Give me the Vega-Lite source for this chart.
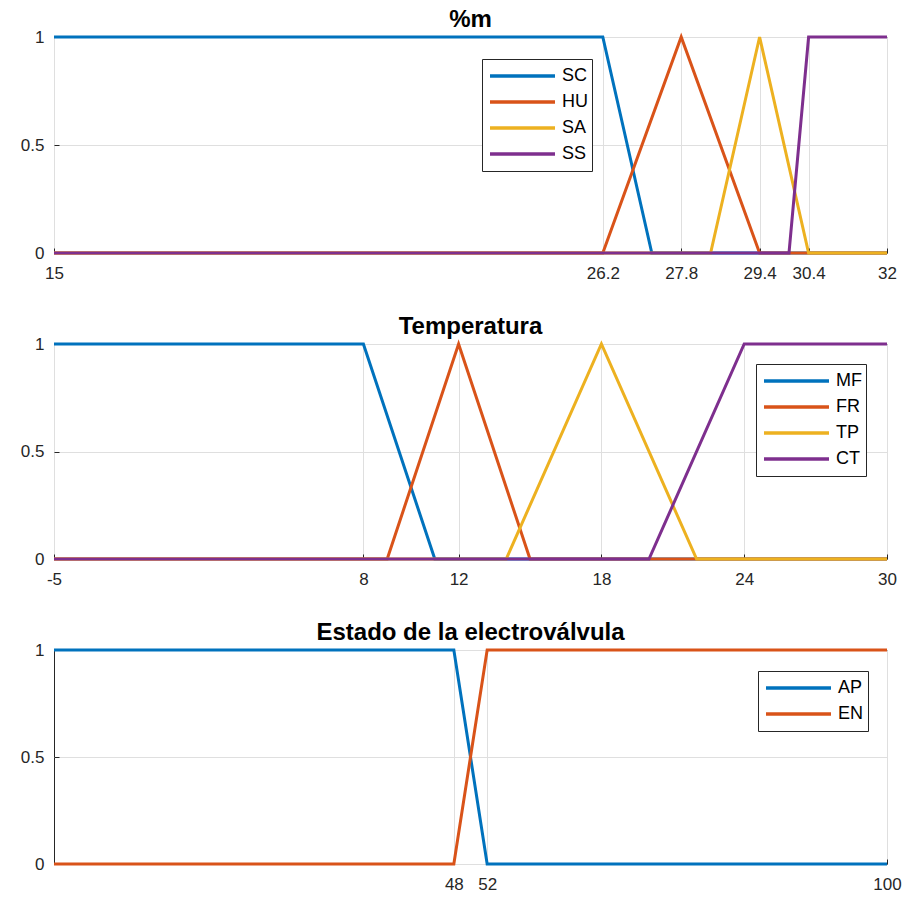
{
  "$schema": "https://vega.github.io/schema/vega-lite/v6.json",
  "background": "white",
  "padding": {"left": 5, "top": 7, "right": 5, "bottom": 2},
  "datasets": {
    "m": [
      {"x": 15, "y": 1, "mf": "SC"}, {"x": 26.2, "y": 1, "mf": "SC"}, {"x": 27.2, "y": 0, "mf": "SC"}, {"x": 32, "y": 0, "mf": "SC"},
      {"x": 15, "y": 0, "mf": "HU"}, {"x": 26.2, "y": 0, "mf": "HU"}, {"x": 27.8, "y": 1, "mf": "HU"}, {"x": 29.4, "y": 0, "mf": "HU"}, {"x": 32, "y": 0, "mf": "HU"},
      {"x": 15, "y": 0, "mf": "SA"}, {"x": 28.4, "y": 0, "mf": "SA"}, {"x": 29.4, "y": 1, "mf": "SA"}, {"x": 30.4, "y": 0, "mf": "SA"}, {"x": 32, "y": 0, "mf": "SA"},
      {"x": 15, "y": 0, "mf": "SS"}, {"x": 30.0, "y": 0, "mf": "SS"}, {"x": 30.4, "y": 1, "mf": "SS"}, {"x": 32, "y": 1, "mf": "SS"}
    ],
    "t": [
      {"x": -5, "y": 1, "mf": "MF"}, {"x": 8, "y": 1, "mf": "MF"}, {"x": 11, "y": 0, "mf": "MF"}, {"x": 30, "y": 0, "mf": "MF"},
      {"x": -5, "y": 0, "mf": "FR"}, {"x": 9, "y": 0, "mf": "FR"}, {"x": 12, "y": 1, "mf": "FR"}, {"x": 15, "y": 0, "mf": "FR"}, {"x": 30, "y": 0, "mf": "FR"},
      {"x": -5, "y": 0, "mf": "TP"}, {"x": 14, "y": 0, "mf": "TP"}, {"x": 18, "y": 1, "mf": "TP"}, {"x": 22, "y": 0, "mf": "TP"}, {"x": 30, "y": 0, "mf": "TP"},
      {"x": -5, "y": 0, "mf": "CT"}, {"x": 20, "y": 0, "mf": "CT"}, {"x": 24, "y": 1, "mf": "CT"}, {"x": 30, "y": 1, "mf": "CT"}
    ],
    "e": [
      {"x": 0, "y": 1, "mf": "AP"}, {"x": 48, "y": 1, "mf": "AP"}, {"x": 52, "y": 0, "mf": "AP"}, {"x": 100, "y": 0, "mf": "AP"},
      {"x": 0, "y": 0, "mf": "EN"}, {"x": 48, "y": 0, "mf": "EN"}, {"x": 52, "y": 1, "mf": "EN"}, {"x": 100, "y": 1, "mf": "EN"}
    ]
  },
  "config": {
    "font": "Liberation Sans",
    "view": {"stroke": "#262626", "strokeWidth": 1},
    "axis": {
      "grid": true, "gridColor": "#dfdfdf", "gridWidth": 1, "ticks": true, "tickSize": -5, "tickColor": "#262626", "tickWidth": 1, "domain": false,
      "labelFont": "Liberation Sans", "labelFontSize": 17, "labelColor": "#262626",
      "labelFlush": false, "labelOverlap": false, "title": null, "labelExpr": "'' + datum.value"
    },
    "axisX": {"labelPadding": 17},
    "axisY": {"labelPadding": 15, "minExtent": 48, "maxExtent": 48},
    "title": {"font": "Liberation Sans", "fontSize": 24, "fontWeight": "bold", "color": "#000000", "offset": -4, "anchor": "middle"},
    "legend": {
      "orient": "none", "direction": "vertical", "symbolType": "stroke", "symbolStrokeWidth": 3.5,
      "symbolSize": 4225, "clipHeight": 26, "rowPadding": 0, "padding": 4, "symbolOffset": 2,
      "labelOffset": 5, "strokeColor": "#262626", "fillColor": "white", "cornerRadius": 0,
      "labelFont": "Liberation Sans", "labelFontSize": 18, "labelColor": "#000000"
    },
    "concat": {"spacing": 32}
  },
  "resolve": {"scale": {"color": "independent", "x": "independent", "y": "independent"}, "legend": {"color": "independent"}},
  "vconcat": [
    {
      "title": "%m",
      "width": 833, "height": 216,
      "data": {"name": "m"},
      "mark": {"type": "line", "strokeWidth": 3, "clip": false},
      "encoding": {
        "x": {"field": "x", "type": "quantitative", "scale": {"domain": [15, 32], "nice": false, "zero": false}, "axis": {"values": [15, 26.2, 27.8, 29.4, 30.4, 32]}},
        "y": {"field": "y", "type": "quantitative", "scale": {"domain": [0, 1], "nice": false}, "axis": {"values": [0, 0.5, 1]}},
        "color": {"field": "mf", "type": "nominal", "scale": {"domain": ["SC", "HU", "SA", "SS"], "range": ["#0072BD", "#D95319", "#EDB120", "#7E2F8E"]}, "legend": {"title": null, "legendX": 428, "legendY": 22, "labelExpr": "datum.label + '\u00a0'"}}
      }
    },
    {
      "title": "Temperatura",
      "width": 833, "height": 215,
      "data": {"name": "t"},
      "mark": {"type": "line", "strokeWidth": 3, "clip": false},
      "encoding": {
        "x": {"field": "x", "type": "quantitative", "scale": {"domain": [-5, 30], "nice": false, "zero": false}, "axis": {"values": [-5, 8, 12, 18, 24, 30]}},
        "y": {"field": "y", "type": "quantitative", "scale": {"domain": [0, 1], "nice": false}, "axis": {"values": [0, 0.5, 1]}},
        "color": {"field": "mf", "type": "nominal", "scale": {"domain": ["MF", "FR", "TP", "CT"], "range": ["#0072BD", "#D95319", "#EDB120", "#7E2F8E"]}, "legend": {"title": null, "legendX": 702, "legendY": 20, "labelExpr": "datum.label + '\u00a0'"}}
      }
    },
    {
      "title": "Estado de la electroválvula",
      "width": 833, "height": 214,
      "data": {"name": "e"},
      "mark": {"type": "line", "strokeWidth": 3, "clip": false},
      "encoding": {
        "x": {"field": "x", "type": "quantitative", "scale": {"domain": [0, 100], "nice": false, "zero": false}, "axis": {"values": [48, 52, 100]}},
        "y": {"field": "y", "type": "quantitative", "scale": {"domain": [0, 1], "nice": false}, "axis": {"values": [0, 0.5, 1]}},
        "color": {"field": "mf", "type": "nominal", "scale": {"domain": ["AP", "EN"], "range": ["#0072BD", "#D95319"]}, "legend": {"title": null, "legendX": 704, "legendY": 21, "labelExpr": "datum.label + '\u00a0'"}}
      }
    }
  ]
}
